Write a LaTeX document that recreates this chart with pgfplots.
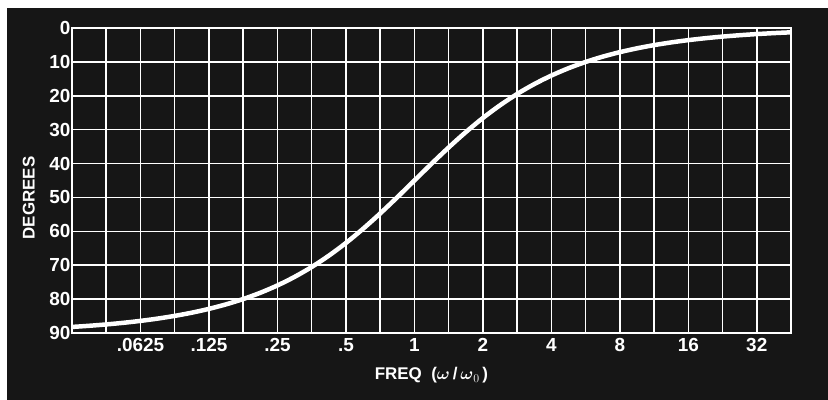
\documentclass[border=0pt]{standalone}
\usepackage{amsmath}
\usepackage{fontspec}
\setmainfont{Liberation Sans}
\usepackage{pgfplots}
\pgfplotsset{compat=1.18}
\definecolor{board}{HTML}{161616}

\begin{document}
\begin{tikzpicture}
% black card behind the chart, bounding box = 828x400
\path[use as bounding box] (-72bp,-67bp) rectangle (756bp,333bp);
\fill[board] (-65bp,-67bp) rectangle (756bp,325bp);
\begin{axis}[
    at={(0,0)}, anchor=south west,
    scale only axis,
    width=719bp, height=305bp,
    xmode=log,
    xmin=0.03125, xmax=45.254834,
    ymin=0, ymax=90,
    y dir=reverse,
    axis line style={white, line width=2pt},
    xtick={0.0625,0.125,0.25,0.5,1,2,4,8,16,32},
    xticklabels={.0625,.125,.25,.5,1,2,4,8,16,32},
    minor xtick={0.044194,0.088388,0.176777,0.353553,0.707107,1.414214,2.828427,5.656854,11.313708,22.627417},
    ytick={0,10,...,90},
    major tick length=0pt, minor tick length=0pt,
    grid=both,
    major grid style={white, line width=1.5pt},
    minor grid style={white, line width=1.5pt},
    tick label style={white, font=\fontsize{19}{20}\selectfont\bfseries},
    /pgf/number format/assume math mode=true,
    xticklabel style={yshift=-2bp},
    yticklabel style={xshift=2bp},
    xlabel={FREQ\ \ ($\boldsymbol{\omega}$\,/\,$\boldsymbol{\omega}_{0}$\,)},
    ylabel={DEGREES},
    label style={white, font=\fontsize{17}{18}\selectfont\bfseries},
    xlabel style={at={(axis description cs:0.5,-0.138)}, anchor=center},
    ylabel style={at={(axis description cs:-0.06,0.443)}, anchor=center, rotate=0},
]
\addplot[white, line width=4.5pt, smooth] table[row sep=\\] {
x y \\
0.03125 88.210 \\
0.037163 87.872 \\
0.044194 87.469 \\
0.052556 86.992 \\
0.0625 86.424 \\
0.074325 85.749 \\
0.088388 84.949 \\
0.105112 84.000 \\
0.125 82.875 \\
0.148651 81.545 \\
0.176777 79.975 \\
0.210224 78.128 \\
0.25 75.964 \\
0.297302 73.440 \\
0.353553 70.529 \\
0.420448 67.190 \\
0.5 63.435 \\
0.594604 59.260 \\
0.707107 54.736 \\
0.840896 49.940 \\
1 45.000 \\
1.189207 40.060 \\
1.414214 35.264 \\
1.681793 30.740 \\
2 26.565 \\
2.378414 22.810 \\
2.828427 19.471 \\
3.363586 16.560 \\
4 14.036 \\
4.756828 11.872 \\
5.656854 10.025 \\
6.727171 8.455 \\
8 7.125 \\
9.513657 6.000 \\
11.313708 5.051 \\
13.454343 4.251 \\
16 3.576 \\
19.027314 3.009 \\
22.627417 2.531 \\
26.908685 2.128 \\
32 1.790 \\
38.054628 1.505 \\
45.254834 1.266 \\
};
\end{axis}
\end{tikzpicture}
\end{document}
